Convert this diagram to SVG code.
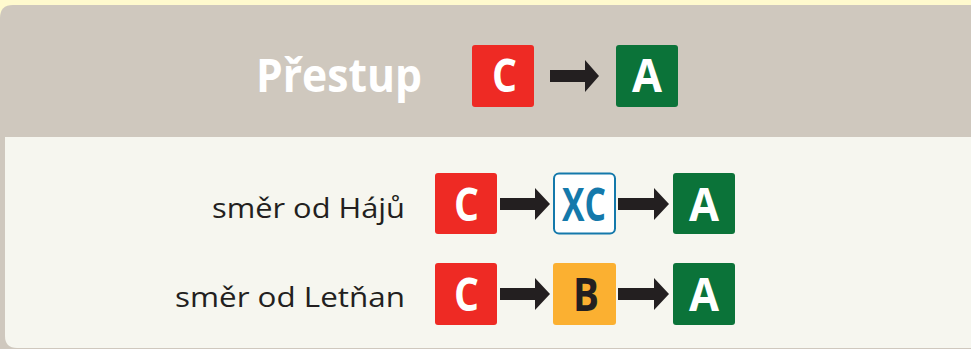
<svg xmlns="http://www.w3.org/2000/svg" width="971" height="349" viewBox="0 0 971 349">
<defs>
<style>
.lbl{font-family:"Open Sans","Liberation Sans",sans-serif;font-size:28px;fill:#231F20}
.bx{font-family:"Open Sans","Liberation Sans",sans-serif;font-weight:bold;font-size:46px}
.w{fill:#FFFFFF}
.red{fill:#EE2A24}
.grn{fill:#0B7339}
.org{fill:#FBB031}
.arr{fill:#231F20}
</style>
</defs>
<rect x="0" y="0" width="971" height="349" fill="#FFFACE"/>
<path d="M0,349 L0,18 Q0,5 13,5 L971,5 L971,349 Z" fill="#CFC8BE"/>
<path d="M5,137 L971,137 L971,348 L17,348 Q5,348 5,336 Z" fill="#F6F6EF"/>

<g id="header">
<text x="256" y="92" font-family="Open Sans, Liberation Sans, sans-serif" font-weight="bold" font-size="46" fill="#FFFFFF" textLength="166" lengthAdjust="spacingAndGlyphs">Přestup</text>
</g>
<g id="h-C"><rect x="472" y="45" width="62" height="62" rx="3" class="red"/><text x="492" y="92" class="bx w" textLength="25" lengthAdjust="spacingAndGlyphs">C</text></g>
<g id="h-A"><rect x="616" y="45" width="62" height="62" rx="3" class="grn"/><text x="632" y="92" class="bx w" textLength="30" lengthAdjust="spacingAndGlyphs">A</text></g>

<g id="r1-label"><text x="212" y="218" class="lbl" textLength="193" lengthAdjust="spacingAndGlyphs">směr od Hájů</text></g>
<g id="r1-C"><rect x="435" y="173" width="62" height="61" rx="3" class="red"/><text x="454" y="221" class="bx w" textLength="25" lengthAdjust="spacingAndGlyphs">C</text></g>
<g id="r1-XC"><rect x="554" y="173.5" width="61" height="60" rx="5" fill="#FFFFFF" stroke="#1479AB" stroke-width="2"/><text x="562" y="221" class="bx" fill="#1479AB" textLength="44" lengthAdjust="spacingAndGlyphs">XC</text></g>
<g id="r1-A"><rect x="673" y="173" width="62" height="61" rx="3" class="grn"/><text x="689" y="221" class="bx w" textLength="30" lengthAdjust="spacingAndGlyphs">A</text></g>

<g id="r2-label"><text x="175" y="307" class="lbl" textLength="230" lengthAdjust="spacingAndGlyphs">směr od Letňan</text></g>
<g id="r2-C"><rect x="435" y="263" width="62" height="62" rx="3" class="red"/><text x="454" y="311" class="bx w" textLength="25" lengthAdjust="spacingAndGlyphs">C</text></g>
<g id="r2-B"><rect x="553" y="263" width="63" height="62" rx="3" class="org"/><text x="573" y="311" class="bx" fill="#231F20" textLength="26" lengthAdjust="spacingAndGlyphs">B</text></g>
<g id="r2-A"><rect x="673" y="263" width="62" height="62" rx="3" class="grn"/><text x="689" y="311" class="bx w" textLength="30" lengthAdjust="spacingAndGlyphs">A</text></g>

<g id="connectors">
<path class="arr" d="M550,70 L585,70 L585,60 L599,76 L585,92 L585,82 L550,82 Z"/>
<path class="arr" d="M500,198 L535,198 L535,188 L550,204 L535,220 L535,210 L500,210 Z"/>
<path class="arr" d="M618,198 L654,198 L654,188 L669,204 L654,220 L654,210 L618,210 Z"/>
<path class="arr" d="M500,288 L535,288 L535,278 L550,294 L535,310 L535,300 L500,300 Z"/>
<path class="arr" d="M618,288 L654,288 L654,278 L669,294 L654,310 L654,300 L618,300 Z"/>
</g>
</svg>
